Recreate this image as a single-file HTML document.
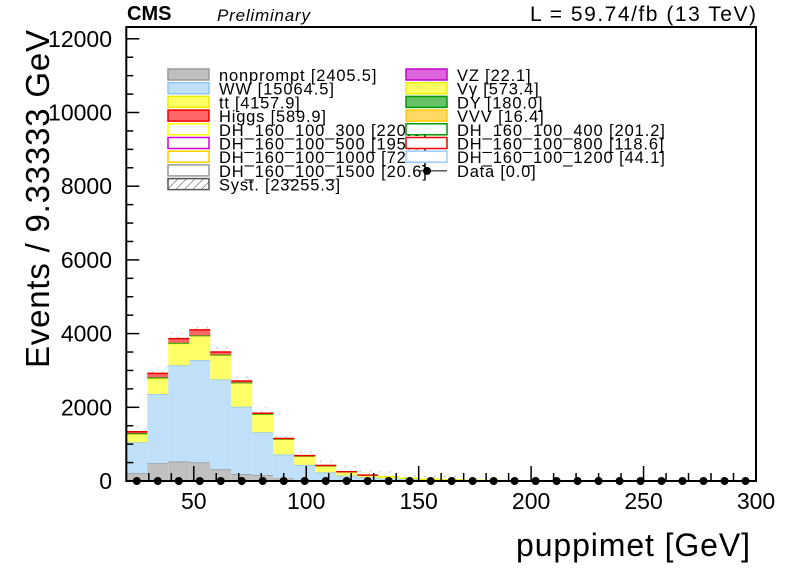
<!DOCTYPE html>
<html><head><meta charset="utf-8"><style>
html,body{margin:0;padding:0;background:#fff;}
svg{display:block;font-family:"Liberation Sans",Arial,sans-serif;}
</style></head><body>
<svg id="c" width="796" height="572" viewBox="0 0 796 572">
<defs>
<pattern id="hatch" width="7" height="7" patternUnits="userSpaceOnUse" patternTransform="rotate(45)"><line x1="0" y1="0" x2="0" y2="3" stroke="#333" stroke-width="1"/></pattern>
<pattern id="hatchL" width="6" height="6" patternUnits="userSpaceOnUse" patternTransform="rotate(45)"><line x1="0" y1="0" x2="0" y2="6" stroke="#333" stroke-width="1"/></pattern>
</defs>
<g id="bars"></g>
<g id="axes"></g>
<g id="legend"></g>
<text x="127" y="20" font-size="20" font-weight="bold">CMS</text>
<text x="217" y="21" font-size="17" font-style="italic" textLength="93">Preliminary</text>
<text x="756" y="21" font-size="21" text-anchor="end" textLength="226">L = 59.74/fb (13 TeV)</text>
<text x="750" y="556" font-size="32" text-anchor="end" textLength="234">puppimet [GeV]</text>
<text transform="translate(49,368) rotate(-90)" font-size="33" textLength="338">Events / 9.33333 GeV</text>
</svg>
<script>
const binEdgesStart = 20, binWidth = 9.3333, nBins = 30;
const nonprompt = [210,480,530,505,317,190,160,70,20,15,10,8,5,3,2,1,0,0,0,0,0,0,0,0,0,0,0,0,0,0];
const ww = [840,1880,2610,2775,2440,1825,1160,650,415,220,135,92,65,45,28,18,10,6,4,2,1,0,0,0,0,0,0,0,0,0];
const tt = [215,420,590,660,660,650,495,420,245,180,105,60,45,25,15,10,6,4,2,1,1,0,0,0,0,0,0,0,0,0];
const dy = [30,30,20,10,10,5,5,3,2,1,0,0,0,0,0,0,0,0,0,0,0,0,0,0,0,0,0,0,0,0];
const higgs = [40,110,115,150,75,45,20,10,5,3,2,1,0,0,0,0,0,0,0,0,0,0,0,0,0,0,0,0,0,0];
const dataVals = [0,0,0,0,0,0,0,0,0,0,0,0,0,0,0,0,0,0,0,0,0,0,0,0,0,0,0,0,0,0];
const xTicks = [50,100,150,200,250,300];
const yTicks = [0,2000,4000,6000,8000,10000,12000];

const X0=126.3,X1=756,Y0=481,Y1=27, xmin=20,xmax=300;
const xs=v=>X0+(v-xmin)/(xmax-xmin)*(X1-X0);
const ys=v=>Y0-v*0.03685;
const NS='http://www.w3.org/2000/svg';
function mk(tag,attrs,parent){const e=document.createElementNS(NS,tag);for(const k in attrs)e.setAttribute(k,attrs[k]);parent.appendChild(e);return e;}
const bars=document.getElementById('bars'),axes=document.getElementById('axes'),leg=document.getElementById('legend');
const series=[[nonprompt,'#c0c0c0','#999'],[ww,'#c0e0fa','#8fc6f0'],[tt,'#ffff66','#eeee00'],[dy,'#66c266','#009900'],[higgs,'#ff6666','#ee0000']];
for(let i=0;i<nBins;i++){
  const a=xs(binEdgesStart+i*binWidth),b=xs(binEdgesStart+(i+1)*binWidth);
  let cum=0;
  series.forEach((s,si)=>{
    const v=s[0][i]; if(v<=0)return;
    const r=mk('rect',{x:a,y:ys(cum+v),width:b-a,height:ys(cum)-ys(cum+v),fill:s[1]},bars);
    
    
    const t=mk('line',{x1:a,x2:b,y1:ys(cum+v),y2:ys(cum+v),stroke:s[2],'stroke-width':1.5},bars);
    
    
    cum+=v;
  });
  if(cum>20){
    const h=mk('rect',{x:a,y:ys(cum)-6,width:b-a,height:6,fill:'url(#hatch)',opacity:0.5},bars);
    
    
  }
  const d=mk('circle',{cx:(a+b)/2,cy:ys(dataVals[i]),r:4,fill:'#000'},bars);
  
  
}
const fr=mk('rect',{x:X0,y:Y1,width:X1-X0,height:Y0-Y1,fill:'none',stroke:'#000','stroke-width':2},axes);


for(let v=20;v<=300;v+=10){
  const maj=v%50===0;
  const l=mk('line',{x1:xs(v),x2:xs(v),y1:Y0,y2:Y0-(maj?15:8),stroke:'#000','stroke-width':1.5},axes);
  
  
}
xTicks.forEach(v=>{
  const t=mk('text',{x:xs(v),y:509,'font-size':23,'text-anchor':'middle'},axes);t.textContent=v;
  
  
});
for(let v=0;v<=12000;v+=500){
  const maj=v%2000===0;
  const l=mk('line',{x1:X0,x2:X0+(maj?13:7),y1:ys(v),y2:ys(v),stroke:'#000','stroke-width':1.5},axes);
  
  
}
yTicks.forEach(v=>{
  const t=mk('text',{x:112,y:ys(v)+8,'font-size':23,'text-anchor':'end'},axes);t.textContent=v;
  
  
});
const legItems=[
 [0,'nonprompt [2405.5]','#c0c0c0','#999'],[0,'WW [15064.5]','#c0e0fa','#8fc6f0'],[0,'tt [4157.9]','#ffff66','#eeee00'],[0,'Higgs [589.9]','#ff6666','#ee0000'],
 [0,'DH_160_100_300 [220.3]','#fff','#ffff00'],[0,'DH_160_100_500 [195.8]','#fff','#cc00cc'],[0,'DH_160_100_1000 [72.1]','#fff','#ffcc00'],[0,'DH_160_100_1500 [20.6]','#fff','#999'],[0,'Syst. [23255.3]','url(#hatchL)','#555'],
 [1,'VZ [22.1]','#dd66dd','#cc00cc'],[1,'V\u03b3 [573.4]','#ffff66','#eeee00'],[1,'DY [180.0]','#66c266','#009900'],[1,'VVV [16.4]','#ffd966','#ffcc00'],
 [1,'DH_160_100_400 [201.2]','#fff','#009900'],[1,'DH_160_100_800 [118.6]','#fff','#ee0000'],[1,'DH_160_100_1200 [44.1]','#fff','#99ccff'],[1,'Data [0.0]',null,null]];
const rowCount=[0,0];
legItems.forEach(it=>{
  const col=it[0],row=rowCount[col]++;
  const bx=col?406:168, y=75+row*13.7;
  if(it[2]){
    const r=mk('rect',{x:bx,y:y-6,width:41,height:11,fill:it[2],stroke:it[3],'stroke-width':1.5},leg);
    
    
  } else {
    mk('line',{x1:bx+12,x2:bx+41,y1:y,y2:y,stroke:'#000'},leg);
    mk('circle',{cx:bx+21,cy:y,r:4,fill:'#000'},leg);
  }
  const t=mk('text',{x:bx+51,y:y+6,'font-size':16.5},leg);t.textContent=it[1];
  
  
  const w=t.getComputedTextLength();
  if(w>0)t.setAttribute('textLength',w*1.1);
});
</script>
</body></html>
